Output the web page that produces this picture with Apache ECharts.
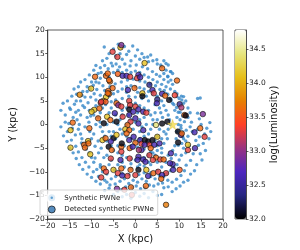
<!DOCTYPE html>
<html><head><meta charset="utf-8">
<script src="https://cdn.jsdelivr.net/npm/echarts@6/dist/echarts.min.js"></script>
<style>html,body{margin:0;padding:0;background:#fff}#c{width:300px;height:250px}</style>
</head><body><div id="c"></div>
<script>
// Synthetic PWNe positions [X, Y] in kpc
const synthPoints = [
[-17,3],[-16.5,4.5],[-16,2],[-15.5,5],[-15,3.5],[-16,0.5],[-17,-0.5],[-15.5,-1.5],[-14.5,6],[-14,7.5],[-13.5,5],[-13,8],[-12.5,9],[-12,7],[-11.5,9.5],[-11,8],[-10.5,10.5],[-10,9],[-9.5,11.5],[-9,12.5],[-8.5,10.8],[-8,12],[-7.5,13.5],[-7,12.5],[-7.1,16.4],[-6.5,14],[-6,15],[-5.5,13],[-5,16],[-4.5,14.5],[-3.9,17],[-3.5,15],[-3,13.8],[-2.5,16.5],[-2,14.8],[-1.5,15.5],[-1,13.5],[-0.6,16.6],[0,14.5],[0.5,15.8],[1,13.8],[1.5,15],[2,14.2],[2.8,14.3],[3,13.3],[3.5,14.7],[4,13.5],[4.9,13.7],[5,12.8],[5.8,12.6],[6,12.2],[6.5,13.5],[7,11.5],[7.5,12.6],[8,11.2],[8.5,10.8],[7.0,12.9],[8.1,11.2],[7.4,10.1],[8.1,9.4],[14.2,5.5],[14.8,5.6],[17,0.4],[16.3,-0.8],[15.8,-2],[17.2,-1.5],
[16.8,-3],[15.5,-4],[16,-5.5],[14.8,-6.2],[15.2,-7.5],[14,-8.5],[13.5,-9.8],[12.6,-10.5],[12,-11.8],[11,-12.2],[10.2,-13],[9.3,-13.6],[8.4,-14.2],[7.5,-13.2],[6.5,-13.4],[6,-14.8],[5,-15],[4,-14.2],[3,-15.5],[2,-14.6],[1,-15.2],[0,-14.4],[-1,-15.6],[-2,-14.8],[-3,-15.3],[-4,-14.2],[-5,-14.8],[-6,-13.5],[-7,-14],[-8,-12.6],[-9,-12],[-10,-11.2],[-11,-10.5],[-12,-9.5],[-12.8,-8.5],[-13.5,-7.2],[-14.2,-6],[-15,-5],[-15.6,-3.6],[-16.4,-2.4],[-14.6,-3.3],[-12.3,-3.9],[-9.2,-7.1],[-8,-9],[-6.5,-12.2],
[-9,9],[-8,9.8],[-7,10.5],[-6,10],[-5,11],[-4,11.5],[-3,11],[-2,11.5],[-1,11],[0,11.3],[1,11],[2,10.5],[3,10],[4,9.5],[5,9],[6,8.5],[6.5,9.5],[7,8],[7.5,9],[8,7.5],[8.5,8.5],[9,7],[9.5,6.5],[10,5.5],[10.5,6],[11,4.5],[11.5,5],[12,3.5],[12.5,2.5],[12,1.5],[12.8,0.5],[12.5,-0.5],[13,-1.5],[12,-2.5],[11.5,-3.5],[12.3,-4.5],[11,-5],[11.5,-6],[10.5,-6.5],[10,-7.5],[9.5,-8.5],[8.8,-9],[8,-9.8],[7.2,-10.3],[6.5,-11],[5.5,-10.8],[4.5,-11.5],[3.5,-11],[2.5,-12],[1.5,-11.5],[0.5,-12.2],[-0.5,-11.8],[-1.5,-12.5],[-2.5,-11.5],[-3.5,-12],[-4.5,-11],[-5.5,-11.5],[-6.5,-10.5],[-7.5,-10],[-8,-8.5],[-8.8,-9.5],[-9.5,-8],[-10,-7],[-10.5,-6],[-11.2,-5.2],[-11.8,-4],[-12.2,-3],[-12.5,-2],[-13,-1],[-12.8,0],[-13.3,1],[-12.5,2],[-13,3],[-12,4],[-12.5,5],[-11.5,5.8],[-11,7],[-10.3,7.5],[-9.6,8.3],[-10.5,3],[-11,1.5],[-11.5,-0.5],
[-7,5],[-6,6],[-5,6.5],[-4,7],[-3,7.5],[-2,8],[-1,8.2],[0,8],[1,7.8],[2,7.5],[3,7],[4,6.5],[5,6],[6,5],[6.5,4],[7,3],[7.5,2],[7.8,1],[8,0],[7.5,-1],[7,-2],[7.3,-3],[6.5,-4],[6,-5],[5,-5.5],[4,-6],[3,-6.5],[2,-7],[1,-7.2],[0,-7.5],[-1,-7.3],[-2,-7],[-3,-6.5],[-4,-6],[-5,-5.5],[-5.5,-4.5],[-6.5,-3.5],[-7,-2.5],[-7.5,-1.5],[-8,-0.5],[-8,0.5],[-8.5,1.5],[-8,2.5],[-7.5,3.5],[-6.8,4.2],[-9,4],[-9.5,2],[-9,0],[-9.5,-2],[-8.5,-3.5],[-7.8,-5],[-6.5,-6.5],[-5.5,-7.5],[-4,-8.5],[-2.5,-9],[-1,-9.3],[0.5,-9],[2,-8.8],[3.5,-8.5],[5,-8],[6.2,-7.2],[7.5,-6.5],[8.5,-5.5],[9,-4.5],[9.3,-3],[9.5,-1.5],[9.8,0],[9.5,1.5],[9,3],[8.5,4.5],[8,5.5],[7,6.5],
[-3,3],[-2,3.5],[-1,4],[0,4.5],[1,4],[2,3.5],[3,3],[3.5,2],[4,1],[4,0],[3.5,-1],[3,-2],[2,-2.5],[1,-3],[0,-3.5],[-1,-3],[-2,-2.5],[-3,-2],[-3.5,-1],[-4,0],[-3.5,1],[-3,2],[-1,1],[0,0.5],[1,1],[1.5,-0.5],[-0.5,-1],[-2,0],[2,1.5],[-1.5,2],[0.5,2.5],[2.5,0],[-2.5,-1.5],[1,-1.5],[-4.5,2],[-5,0.5],[-5,-1.5],[-4.5,-3],[4.5,2.5],[5,1],[5.5,-1],[5,-2.5],[4.5,-3.5],[5.5,3.5],[-5.5,3.5],
[-15.2,0.2],[-14.2,1.5],[-14.8,3.2],[-13.6,2.6],[-13.9,4.3],[-14.4,-0.8],[-13.7,-2.2],[-13.4,6.4],[-12.2,6.2],[-11.6,3.6],[-10.8,4.6],[-10.2,5.8],[-9.4,6.5],[-8.8,7.4],[-8.3,8.8],[-7.4,8.2],[-7.8,11],[-6.2,11.8],[-5.2,12.4],[-4.4,12.8],[-3.6,12.2],[-2.4,12.8],[-1.2,12.4],[0.2,12.6],[1.6,12.2],[2.8,11.8],[3.9,11.2],[4.8,10.6],[5.6,10.2],[6.5,10.8],[7.4,10.2],
[11,5.9],[10.6,5.2],[9.5,5.9],[14.2,2.4],[14.6,1.2],[15,0],[14.2,-1],[14.6,-2.6],[13.8,-3.4],[14.4,-4.4],[13.2,-6.2],[12.6,-7.6],[11.6,-8.6],[11.2,-9.8],[10.4,-10.8],[9.4,-11.6],[8.4,-12.2],
[9.8,-4.4],[10.6,-4],[11,-3],[10.8,-2.6],[11.6,-1.2],[10.4,-0.8],[11.2,0.6],[10.8,1.8],[10.2,2.6],
[7.4,-11.8],[6.2,-12.4],[5.2,-12.6],[4.2,-13],[3.2,-12.8],[2.2,-13.4],[1.2,-13.6],[0.2,-13],[-0.8,-13.4],[-2.2,-13.2],[-3.2,-13.8],[-4.6,-12.6],[-5.8,-12.8],[-7,-11.8],[-8.4,-11],[-9.6,-10],[-10.6,-9],[-11.4,-8],[-12.2,-7],[-13,-5.8],[-13.6,-4.6],
[-6,-8.5],[-4.8,-9.6],[-3,-10.4],[-1.5,-10.6],[0.8,-10.6],[2,-10.2],[3.5,-10.2],[5,-9.8],[6,-9],[7,-8],[8.2,-7.2],[9.2,-6.4],[-7.2,-7],[-8.4,-6],[-9.2,-4.6],[-10,-3],[-10.4,-1.5],[-10.6,0.5],[-10.2,1.8],[-9.8,3],[-9,5.2],[-8,6.2],[-7,7.2],[-5.8,8],[-4.6,8.6],[-3.2,9],[-1.8,9.4],[-0.5,9.6],[1,9.2],[2.2,9],[3.4,8.6],[4.6,8.2],[5.6,7.4],[6.6,7.2],[7.4,6.4],[8.2,5.2],[8.8,4.2],[9.4,3.6],[9.8,2.6],[10.2,1],[10.4,-0.2],[10.8,-1.6],
[-6,2.5],[-6.5,0],[-6,-1.5],[-5.5,-2.5],[-4,-4.5],[-2.5,-4.5],[-1,-4.5],[0.5,-4.8],[2,-5.2],[3.5,-5.8],[5,-4.5],[6,-3],[6.5,-1.5],[6.2,1.5],[5.8,2.5],[4.5,4.2],[3,5],[1.5,5.5],[0,5.8],[-1.5,6],[-3,5.5],[-4.5,5.2],[-5.5,4.8],[-2,6.8],[0.5,6.8],[2.5,6],[-3,-8],[-1,-8.3],[1,-8.5],[3,-8],[4.5,-6.5],[6,-6]
];
// Detected synthetic PWNe [X, Y, log(Luminosity)]
const detectedPoints = [
[-3.4,16.3,34.0],[-3.2,16.8,32.9],[-5.2,15.4,33.3],[-4.1,14.3,33.3],[2.1,13.0,34.1],[6.1,11.9,33.6],[9.5,9.3,33.6],
[-9.2,10.1,33.6],[-10.1,7.6,34.1],[-12.7,6.3,33.75],[-6.7,10.3,33.6],[-5.8,9.1,33.65],[-4.0,10.7,33.55],[-2.9,10.3,32.6],[-2.0,10.3,32.6],[-1.2,10.1,33.3],[0.7,10.5,32.65],[0.4,9.8,33.3],[1.1,10.0,32.6],[3.2,8.4,32.4],[3.9,7.3,32.6],
[-5.2,7.7,33.6],[-6.2,7.1,33.6],[-6.7,5.8,34.1],[-7.3,5.0,34.1],[-6.0,6.5,33.65],[-7.9,4.6,33.3],[-6.8,4.8,33.5],[-1.7,7.3,32.6],[-0.2,7.7,33.6],[1.6,6.6,34.1],[1.6,6.0,32.05],[4.2,6.6,33.3],[6.1,6.5,32.6],[6.8,6.1,33.6],[7.7,5.2,32.05],[9.0,6.2,33.35],[5.0,5.3,32.35],[4.9,4.5,32.6],
[10.1,4.3,32.45],[10.5,3.6,33.1],[11.2,2.0,33.6],[11.5,1.9,32.05],[15.4,2.2,32.9],
[-4.3,4.5,33.6],[-3.9,4.1,32.9],[-3.2,3.8,33.3],[-1.4,5.0,33.3],[-1.2,4.1,33.3],[0.0,3.8,33.3],[0.7,3.2,32.6],[1.8,2.7,32.6],[2.5,2.5,33.3],[-1.4,3.2,32.05],[-0.5,2.7,32.6],[-4.7,2.4,32.6],
[-6.45,1.65,34.1],[-5.7,0.95,33.6],[-7.2,0.24,32.05],[-4.3,0.6,32.05],[-2.9,1.65,33.3],[-1.4,2.0,32.6],[-1.1,0.6,33.3],[0.0,1.3,32.6],[0.7,0.2,32.6],[-1.8,-0.1,33.6],[-2.3,-1.0,34.1],[-1.4,-1.2,33.6],[-2.0,-1.9,33.6],[1.8,-1.2,32.6],[4.7,-0.1,34.4],[6.1,0.2,32.05],[7.3,0.6,32.05],
[9.7,-1.5,32.05],[10.4,-2.2,32.6],[10.6,-1.9,33.6],[13.5,-1.65,32.6],[14.8,-0.8,33.6],[15.8,-2.6,33.3],[9.75,-3.8,32.05],[12.0,-4.3,34.1],[12.0,-5.4,33.3],[13.6,-5.0,32.6],[8.1,-6.1,32.6],[8.5,-8.4,32.6],[10.1,-9.6,33.5],[7.0,-10.3,33.3],[7.0,-17.0,33.7],
[-7.5,-3.3,34.1],[-6.8,-2.9,33.6],[-5.0,-2.9,32.05],[-4.3,-2.2,34.1],[-6.1,-4.7,32.05],[-5.4,-5.4,33.6],[-3.2,-4.7,33.6],[-3.2,-5.75,33.3],[-1.4,-3.3,32.6],[-0.4,-2.6,32.6],[0.0,-3.85,33.6],[1.1,-3.3,32.6],[1.4,-4.1,33.3],[2.15,-3.3,32.05],[2.9,-3.6,32.05],[3.2,-4.3,33.3],[3.9,-3.3,32.05],[4.3,-4.3,32.6],[5.0,-2.6,34.1],
[1.4,-5.4,32.6],[0.7,-6.8,32.6],[1.8,-7.4,32.6],[3.2,-6.5,33.3],[4.7,-7.0,33.6],[5.7,-7.4,33.3],[6.45,-7.4,33.6],[7.9,-8.2,32.6],
[-5.6,-3.6,32.6],[-3.1,-4.0,32.05],[-1.3,-5.0,33.6],[-0.6,-4.7,32.6],[0.8,-5.4,33.1],[2.1,-4.3,32.6],[3.5,-5.0,33.6],[5.5,-4.0,32.6],[-5.6,-7.2,33.3],[-3.4,-7.5,32.6],[-1.3,-7.2,33.3],[0.5,-7.5,32.6],[2.3,-7.9,32.6],[4.0,-7.5,33.3],
[-7.2,-9.3,33.6],[-5.0,-9.6,34.1],[-3.2,-9.3,33.6],[-1.1,-9.6,33.6],[-1.8,-10.9,33.3],[0.0,-10.7,33.3],[0.7,-9.6,32.05],[2.5,-9.6,34.1],[2.9,-10.9,32.6],[4.1,-10.3,33.6],[5.2,-10.0,33.3],[6.1,-10.7,32.6],[5.9,-11.5,33.6],[8.6,-9.6,32.6],[-4.0,-10.3,33.3],[-3.0,-10.8,32.6],
[-14.8,-1.2,34.1],[-10.5,-0.8,33.6],[-14.8,-4.9,34.1],[-10.8,-3.5,34.1],[-11.7,-4.3,33.6],[-11.5,-4.9,33.6],[-10.7,-4.0,33.6],[-10.3,-6.3,34.1],[-6.7,-10.0,33.3],[-7.8,-11.2,33.3],
[-4.2,-13.6,32.9],[-2.5,-13.8,33.3],[-1.0,-13.3,33.6],[-0.8,-14.9,33.3],[2.4,-13.0,33.6],
[-9.4,3.1,34.1],[-10.0,2.7,34.1],[-8.2,3.4,33.6],[-8.5,1.3,33.6],[-14.3,0.4,33.6],[-7.8,4.8,33.3],[-6.3,10.8,33.6],[-6.0,9.4,33.6],[-6.3,6.6,33.6]
];
// Sun position [X, Y]
const sunPoint = [[8.5, 0]];
const xTicks = { min: -20, max: 20, step: 5 };
const yTicks = { min: -20, max: 20, step: 5 };
const cbarRange = { min: 32.0, max: 34.78, step: 0.5 };
const cmrmap = ['#000000','#262680','#4d26bf','#993380','#ff4026','#e68000','#e6bf1a','#e6e680','#ffffff'];

const FONT = 'DejaVu Sans';
const minus = v => String(v).replace('-', '\u2212');
const chart = echarts.init(document.getElementById('c'), null, {renderer: 'canvas'});
const axisCommon = {
  axisLine: {show: true, onZero: false, lineStyle: {color: '#333', width: 0.8}},
  axisTick: {show: true, length: 2.5, lineStyle: {color: '#333', width: 0.8}},
  splitLine: {show: false},
  axisLabel: {fontSize: 7.5, color: '#222', fontFamily: FONT, margin: 3},
  nameTextStyle: {fontSize: 10, color: '#111', fontFamily: FONT}
};
chart.setOption({
  animation: false,
  backgroundColor: '#fff',
  grid: [
    {left: 37, top: 30, width: 186, height: 189, show: true, borderColor: '#333', borderWidth: 0.8, backgroundColor: 'transparent'},
    {left: 235, top: 30, width: 11, height: 189, show: true, borderColor: '#333', borderWidth: 0.8, backgroundColor: 'transparent'}
  ],
  xAxis: [
    Object.assign({}, axisCommon, {gridIndex: 0, type: 'value', min: xTicks.min, max: xTicks.max, interval: xTicks.step,
      name: 'X (kpc)', nameLocation: 'middle', nameGap: 14,
      axisLabel: Object.assign({}, axisCommon.axisLabel, {formatter: minus})}),
    {gridIndex: 1, type: 'value', min: 0, max: 1, show: false}
  ],
  yAxis: [
    Object.assign({}, axisCommon, {gridIndex: 0, type: 'value', min: yTicks.min, max: yTicks.max, interval: yTicks.step,
      name: 'Y (kpc)', nameLocation: 'middle', nameGap: 21, nameRotate: 90,
      axisLabel: Object.assign({}, axisCommon.axisLabel, {formatter: minus})}),
    Object.assign({}, axisCommon, {gridIndex: 1, type: 'value', position: 'right', min: cbarRange.min, max: cbarRange.max, interval: cbarRange.step,
      name: 'log(Luminosity)', nameLocation: 'middle', nameGap: 21, nameRotate: 90,
      axisLabel: Object.assign({}, axisCommon.axisLabel, {showMaxLabel: false,
        formatter: v => (Math.abs(v * 2 - Math.round(v * 2)) < 1e-6 ? v.toFixed(1) : '')})})
  ],
  visualMap: {
    type: 'continuous', min: cbarRange.min, max: cbarRange.max, dimension: 2, seriesIndex: 1,
    show: true, calculable: false, left: 235, top: 30, itemWidth: 11, itemHeight: 189, padding: 0,
    orient: 'vertical', inRange: {color: cmrmap}, hoverLink: false, showLabel: false
  },
  legend: {
    left: 40, top: 190, orient: 'vertical', padding: [2, 4, 2, 6], itemGap: 2,
    itemWidth: 7, itemHeight: 7,
    backgroundColor: 'rgba(255,255,255,0.8)', borderColor: '#cccccc', borderWidth: 0.8, borderRadius: 2,
    textStyle: {fontSize: 7, color: '#222', fontFamily: FONT, padding: [0, 0, 0, 4]},
    data: [
      {name: 'Synthetic PWNe', icon: 'circle', itemStyle: {color: '#3587c8', borderColor: '#ffffff', borderWidth: 4.5}},
      {name: 'Detected synthetic PWNe', icon: 'circle', itemStyle: {color: '#2a6fae', borderColor: '#111', borderWidth: 0.9}}
    ]
  },
  series: [
    {name: 'Synthetic PWNe', type: 'scatter', xAxisIndex: 0, yAxisIndex: 0, data: synthPoints,
      symbolSize: 3.4, itemStyle: {color: '#3587c8'}, z: 2, silent: true},
    {name: 'Detected synthetic PWNe', type: 'scatter', xAxisIndex: 0, yAxisIndex: 0, data: detectedPoints,
      symbolSize: 5.5, itemStyle: {borderColor: '#111', borderWidth: 0.8}, z: 3, silent: true},
    {name: 'Sun', type: 'scatter', xAxisIndex: 0, yAxisIndex: 0, data: sunPoint,
      symbol: 'path://M50,0 L61,35 L98,35 L68,57 L79,91 L50,70 L21,91 L32,57 L2,35 L39,35 Z',
      symbolSize: 10, itemStyle: {color: '#f5dc4a', borderColor: '#e0c040', borderWidth: 0.5}, z: 4, silent: true}
  ]
});
</script></body></html>
